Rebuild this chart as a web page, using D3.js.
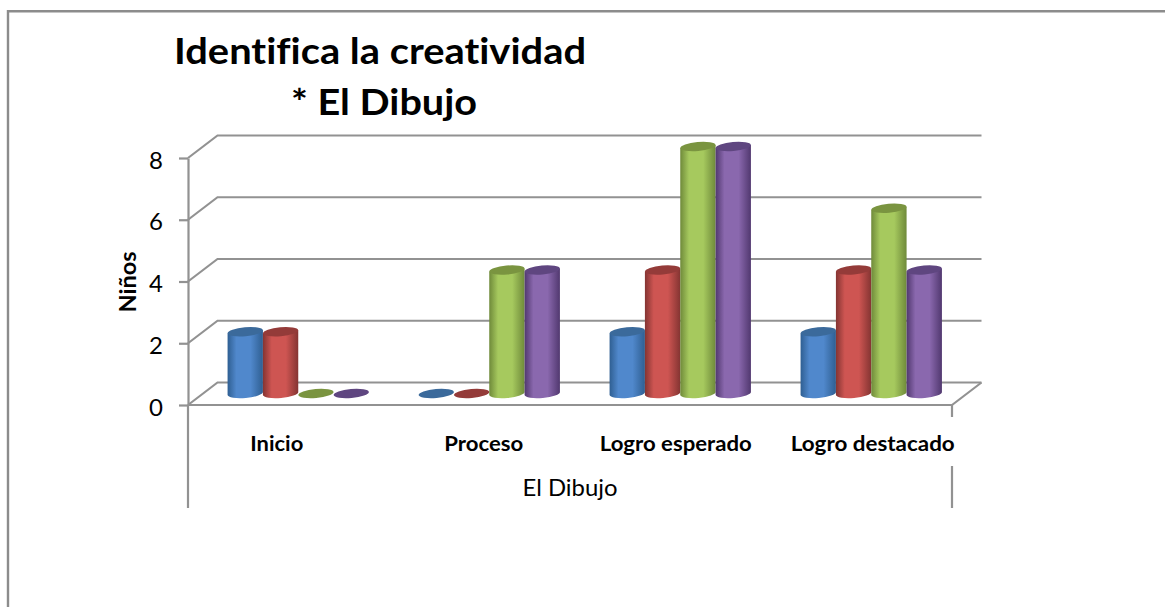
<!DOCTYPE html>
<html>
<head>
<meta charset="utf-8">
<script src="https://cdn.jsdelivr.net/npm/d3@7"></script>
<style>
  html, body { margin: 0; padding: 0; background: #fff; }
  svg { display: block; }
  text { font-family: Lato, "Open Sans", sans-serif; fill: #000; font-variant-ligatures: none; }
</style>
</head>
<body>
<svg id="chart" width="1165" height="607"></svg>
<script>
const categories = ["Inicio", "Proceso", "Logro esperado", "Logro destacado"];
const serie1 = [2, 0, 2, 2];
const serie2 = [2, 0, 4, 4];
const serie3 = [0, 4, 8, 6];
const serie4 = [0, 4, 8, 4];
const yTicks = [0, 2, 4, 6, 8];
const seriesValues = [serie1, serie2, serie3, serie4];

const colors = [
  { dark: "#2f5f92", mid: "#5088cc", top: "#3b6a9b" },
  { dark: "#843432", mid: "#ce5552", top: "#943b39" },
  { dark: "#6f8a3a", mid: "#a6c95e", top: "#7a9440" },
  { dark: "#51386f", mid: "#8a68ae", top: "#5f4680" }
];

const width = 1165;
const height = 607;
const frontLeft = 188;
const frontRight = 952;
const depthX = 29.5;
const depthY = 22.5;

const svg = d3.select("#chart");

// gradientes de los cilindros
const defs = svg.append("defs");
colors.forEach((c, i) => {
  const g = defs.append("linearGradient").attr("id", `cyl${i}`);
  g.append("stop").attr("offset", "0%").attr("stop-color", c.dark);
  g.append("stop").attr("offset", "25%").attr("stop-color", c.mid);
  g.append("stop").attr("offset", "65%").attr("stop-color", c.mid);
  g.append("stop").attr("offset", "100%").attr("stop-color", c.dark);
});

// marco
svg.append("path")
  .attr("d", `M8,${height} V11.3 H${width}`)
  .attr("fill", "none")
  .attr("stroke", "#8c8c8c")
  .attr("stroke-width", 2.4);

// escalas
const yFront = d3.scaleLinear().domain([0, 8]).range([405, 158]);
const yBar = d3.scaleLinear().domain([0, 8]).range([393.5, 146.5]);

const x0 = d3.scaleBand()
  .domain(categories)
  .range([frontLeft + depthX / 2, frontRight + depthX / 2])
  .paddingInner(0.26)
  .paddingOuter(0.13);

const x1 = d3.scaleBand()
  .domain(d3.range(seriesValues.length))
  .range([0, x0.bandwidth()]);

const axisColor = "#929292";

// rejilla: pared izquierda y pared del fondo
const grid = svg.append("g")
  .attr("fill", "none")
  .attr("stroke", axisColor)
  .attr("stroke-width", 2.2);

grid.selectAll("path")
  .data(yTicks)
  .join("path")
  .attr("d", d => {
    const y = yFront(d);
    return `M${frontLeft},${y} L${frontLeft + depthX},${y - depthY} H${frontRight + depthX}`;
  });

// suelo
grid.append("path")
  .attr("d", `M${frontLeft},405 H${frontRight} L${frontRight + depthX},${405 - depthY}`);

// eje Y
const yAxis = svg.append("g")
  .attr("transform", `translate(${frontLeft},0)`)
  .call(d3.axisLeft(yFront).tickValues(yTicks).tickSize(9).tickPadding(16).tickSizeOuter(0));
yAxis.select(".domain").attr("stroke", axisColor).attr("stroke-width", 2.2);
yAxis.selectAll(".tick line").attr("stroke", axisColor).attr("stroke-width", 2.2);
yAxis.selectAll(".tick text")
  .attr("font-size", 24)
  .attr("font-family", "Lato, sans-serif")
  .attr("dy", "0.42em");

svg.append("text")
  .attr("transform", "translate(135.5,282) rotate(-90)")
  .attr("text-anchor", "middle")
  .attr("font-size", 22)
  .attr("font-weight", 700)
  .attr("textLength", 61)
  .attr("lengthAdjust", "spacingAndGlyphs")
  .text("Niños");

// eje de categorias (multinivel)
const catAxis = svg.append("g")
  .attr("stroke", axisColor)
  .attr("stroke-width", 2.2);
catAxis.append("line")
  .attr("x1", frontLeft).attr("x2", frontLeft)
  .attr("y1", 405).attr("y2", 508);
catAxis.append("line")
  .attr("x1", frontRight).attr("x2", frontRight)
  .attr("y1", 405).attr("y2", 417);
catAxis.append("line")
  .attr("x1", frontRight).attr("x2", frontRight)
  .attr("y1", 466).attr("y2", 508);

// cilindros
const ry = 4.5;
const tilt = 1.6;
const groups = svg.append("g")
  .selectAll("g")
  .data(categories)
  .join("g")
  .attr("transform", d => `translate(${x0(d)},0)`);

const bars = groups.selectAll("g")
  .data((d, i) => seriesValues.map((s, k) => ({ k, v: s[i] })))
  .join("g");

bars.filter(d => d.v > 0).append("path")
  .attr("fill", d => `url(#cyl${d.k})`)
  .attr("d", d => {
    const rx = x1.bandwidth() / 2;
    const left = x1(d.k);
    const right = left + 2 * rx;
    return `M${left},${yBar(d.v) + tilt} V${yBar(0) + tilt}` +
      `A${rx},${ry} -5 0 0 ${right},${yBar(0) - tilt}` +
      `V${yBar(d.v) - tilt}Z`;
  });

bars.append("ellipse")
  .attr("rx", x1.bandwidth() / 2)
  .attr("ry", ry)
  .attr("fill", d => colors[d.k].top)
  .attr("transform", d => `translate(${x1(d.k) + x1.bandwidth() / 2},${yBar(d.v)}) rotate(-5)`);

// etiquetas de categoria
const labelShift = [-21.5, -5.5, -4.5, 1.5];
const labelWidth = [53, 79, 152, 164];
svg.append("g")
  .selectAll("text")
  .data(categories)
  .join("text")
  .attr("x", (d, i) => x0(d) + x0.bandwidth() / 2 + labelShift[i])
  .attr("y", 451)
  .attr("text-anchor", "middle")
  .attr("font-size", 21)
  .attr("font-weight", 700)
  .attr("textLength", (d, i) => labelWidth[i])
  .attr("lengthAdjust", "spacingAndGlyphs")
  .text(d => d);

svg.append("text")
  .attr("x", 570)
  .attr("y", 496)
  .attr("text-anchor", "middle")
  .attr("font-size", 23)
  .attr("textLength", 95)
  .attr("lengthAdjust", "spacingAndGlyphs")
  .text("El Dibujo");

// titulo
svg.append("text")
  .attr("x", 174)
  .attr("y", 63.5)
  .attr("font-size", 37)
  .attr("font-weight", 700)
  .attr("textLength", 412)
  .attr("lengthAdjust", "spacingAndGlyphs")
  .text("Identifica la creatividad");
svg.append("text")
  .attr("x", 291)
  .attr("y", 115)
  .attr("font-size", 37)
  .attr("font-weight", 700)
  .attr("textLength", 186)
  .attr("lengthAdjust", "spacingAndGlyphs")
  .text("* El Dibujo");
</script>
</body>
</html>
